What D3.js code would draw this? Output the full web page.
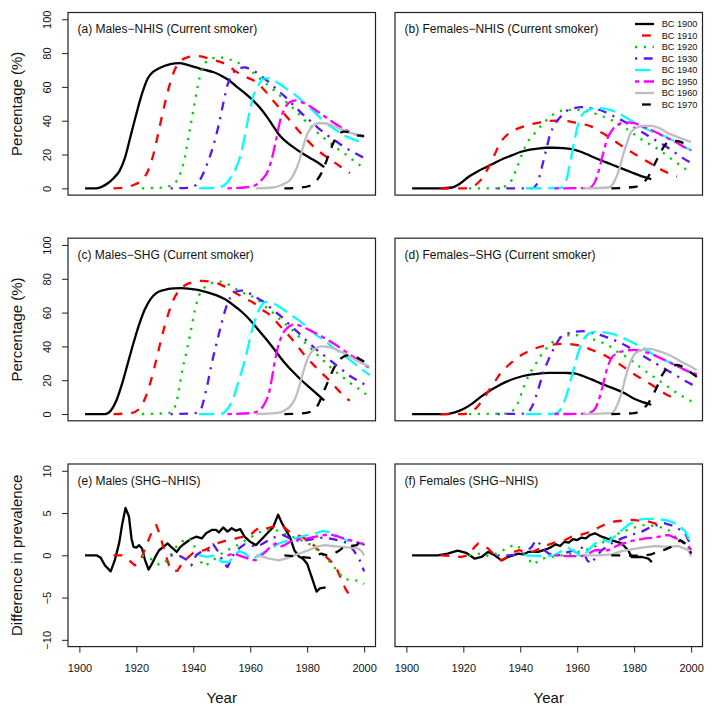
<!DOCTYPE html>
<html>
<head>
<meta charset="utf-8">
<script src="https://cdn.jsdelivr.net/npm/d3@7"></script>
<style>
  body { margin: 0; background: #fff; }
  text { font-family: "Liberation Sans", Arial, Helvetica, sans-serif; fill: #111; }
</style>
</head>
<body>
<svg id="chart" width="714" height="712"></svg>
<script>
// birth cohorts (legend)
const cohorts = ["BC 1900", "BC 1910", "BC 1920", "BC 1930", "BC 1940", "BC 1950", "BC 1960", "BC 1970"];

const yearTicks = [1900, 1920, 1940, 1960, 1980, 2000];
const pctTicks = [0, 20, 40, 60, 80, 100];
const diffTicks = [-10, -5, 0, 5, 10];

// (a) males, NHIS, current smoker prevalence (%) — [year, value]
const malesNHIS = [
  [[1902,0],[1906,0],[1908,1],[1910,3],[1912,6],[1914,10],[1916,18],[1918,31],[1920,44],[1922,56],[1924,65],[1926,69],[1928,71],[1930,72.5],[1932,73.5],[1935,74],[1938,73],[1941,71.5],[1944,70],[1947,68.8],[1950,66.5],[1952,64.5],[1955,60.5],[1958,56.5],[1961,52],[1964,46.5],[1966,42],[1968,37],[1970,32],[1972,28.5],[1975,24.5],[1978,21],[1981,18],[1984,15],[1986,12.5]],
  [[1912,0],[1916,0.5],[1919,2],[1922,5],[1924,10],[1926,20],[1928,35],[1930,50],[1932,63],[1934,72],[1936,76],[1938,77.5],[1941,78.3],[1944,77.5],[1947,76],[1950,74.5],[1953,71.5],[1956,68],[1959,65.5],[1962,63],[1965,58],[1968,52],[1971,46],[1974,40],[1977,34],[1980,28.5],[1983,23.5],[1986,19.5],[1989,16],[1992,12.5],[1995,9]],
  [[1922,0],[1928,0.3],[1932,1.5],[1934,4],[1935.5,9],[1937,18],[1938.5,32],[1940,46],[1941.5,60],[1943,70],[1945,75.5],[1947,77],[1949,77.5],[1952,76.5],[1955,75],[1958,72],[1961,68.5],[1964,64],[1967,60],[1970,55.5],[1973,50.5],[1976,46],[1979,40.5],[1982,35.5],[1985,31],[1988,27],[1991,23],[1994,19.5],[1997,15.5],[2000,12]],
  [[1932,0],[1938,0.3],[1941,2],[1943,7],[1945,15],[1947,25],[1949,38],[1950.5,50],[1952,61],[1953.5,67],[1955.5,70.5],[1958,71.5],[1960,70.5],[1963,67.5],[1966,63.5],[1969,59],[1972,54.5],[1975,49.5],[1978,44.5],[1981,40],[1984,35.5],[1987,31.5],[1990,28],[1993,24.5],[1996,21.5],[2000,18]],
  [[1942,0],[1948,0.3],[1951,2],[1953,6],[1955,12],[1956.5,19],[1958,30],[1959.5,43],[1961,54],[1963,61.5],[1965,65],[1967,65],[1970,62],[1973,58.5],[1976,55],[1979,50.5],[1982,46],[1985,41],[1988,37],[1991,33.5],[1994,30.5],[1997,28.5],[2000,26.5]],
  [[1952,0],[1958,0.5],[1962,2],[1964,5],[1966,9.5],[1967.5,17],[1969,28],[1970.5,40],[1972,47],[1974,51],[1976,52],[1978,51],[1981,48.5],[1984,45],[1987,41.5],[1990,38],[1993,35],[1996,32.5],[2000,30.5]],
  [[1962,0],[1968,0.5],[1971,2],[1974,5],[1975.5,9],[1977,15],[1978.5,24],[1980,32],[1982,37],[1984,38.5],[1986,38.5],[1989,37],[1992,35],[1995,33],[2000,30.5]],
  [[1972,0],[1978,0.5],[1981,1.5],[1983,4],[1985,9],[1986.5,15],[1988,22],[1989.5,28],[1991,32],[1993,33.5],[1995,33],[1997,31.5],[2000,31]]
];

// (b) females, NHIS
const femalesNHIS = [
  [[1902,0],[1912,0],[1916,0.5],[1919,3],[1922,7],[1925,10],[1928,12.5],[1931,15],[1934,17.5],[1937,19.5],[1940,21.5],[1943,22.8],[1946,23.5],[1949,24],[1952,24],[1955,23.8],[1958,23.2],[1961,21.8],[1964,19.7],[1967,17.5],[1970,15.5],[1973,13.5],[1976,11.5],[1979,9.5],[1982,7.5],[1986,5.5]],
  [[1912,0],[1920,0],[1923,0.8],[1925,3],[1927,7],[1929,13],[1931,20],[1933,27],[1935,31],[1938,34.5],[1941,36.5],[1944,38],[1947,39],[1950,39.8],[1953,40],[1956,39.8],[1959,39],[1962,38],[1965,36.5],[1968,33.5],[1971,30.5],[1974,27],[1977,23.5],[1980,20.5],[1983,17.5],[1986,14.5],[1989,11.5],[1992,9],[1995,7]],
  [[1922,0],[1932,0],[1935,1.5],[1937,5],[1939,13],[1941,22],[1943,28.5],[1945,32.5],[1947,36.5],[1949,40],[1951,43],[1953,45],[1956,46.3],[1959,46.5],[1962,46],[1965,45],[1968,43],[1971,41.3],[1974,38.5],[1977,35.5],[1980,32],[1983,28.5],[1986,25.5],[1989,22.5],[1992,18.7],[1995,15],[1998,11.5],[2000,10]],
  [[1932,0],[1944,0],[1946,3],[1947.5,12],[1949,22],[1950.5,32],[1952,37.5],[1954,42],[1956.5,46],[1959,47.5],[1961.5,48],[1964,47.5],[1967,46.8],[1970,45],[1973,42.5],[1976,40],[1979,37],[1982,34],[1985,31],[1988,28],[1991,25],[1994,21.5],[1997,18],[2000,15]],
  [[1942,0],[1954,0.2],[1956,4],[1957.5,15],[1959,28],[1960.5,39],[1962.5,45],[1965,47],[1967.5,47.5],[1970,47],[1973,45.5],[1976,43],[1979,40],[1982,37],[1985,34.5],[1988,32.5],[1991,30.5],[1994,28],[1997,25],[2000,22.5]],
  [[1952,0],[1964,0.2],[1966,3],[1967.5,10],[1969,20],[1970.5,29],[1972.5,35],[1975,38.3],[1977,39],[1980,38.5],[1983,36.5],[1986,34.5],[1989,32],[1992,29.5],[1995,27],[1998,24],[2000,22.5]],
  [[1962,0],[1971,0.5],[1973,4],[1974.5,10],[1976,19],[1977.5,27],[1979,33.5],[1981,36],[1983,37],[1986,37],[1989,35.5],[1992,32.5],[1995,30.5],[1998,28.5],[2000,27.5]],
  [[1972,0],[1980,0.8],[1983,3],[1985,7],[1986.5,12],[1988,17],[1989.5,22],[1991,26],[1993,27.8],[1995,28],[1997,27],[2000,24]]
];

// (c) males, SHG
const malesSHG = [
  [[1902,0],[1909,0],[1911,2],[1913,8],[1915,18],[1917,30],[1919,42],[1921,53],[1923,62],[1925,68],[1927,71.5],[1930,73.5],[1933,74.3],[1936,74.5],[1939,74],[1942,73.3],[1945,72],[1948,70.3],[1951,68],[1954,64.5],[1957,60.5],[1960,55.5],[1963,49.5],[1966,43.5],[1969,37],[1972,30.5],[1975,25],[1978,20],[1981,15.5],[1984,11],[1986,8]],
  [[1912,0],[1918,0.5],[1921,3],[1923,9],[1925,19],[1927,32],[1929,46],[1931,58],[1933,67.5],[1935,73],[1937,76],[1940,78],[1943,78.8],[1946,78.3],[1949,77],[1952,74.5],[1955,71.5],[1958,68.5],[1961,66],[1964,62],[1967,58.5],[1970,53],[1973,47.5],[1976,41.5],[1979,35],[1982,29.5],[1985,24.5],[1988,19.5],[1991,14],[1994,9],[1995,8]],
  [[1922,0],[1931,0.5],[1933,2.5],[1934.5,10],[1936,25],[1937.5,36],[1939,48],[1940.5,61],[1942,70],[1944,75],[1946.5,77.5],[1950,78.3],[1953,76],[1956,73],[1959,70.5],[1962,68.5],[1965,64],[1968,60],[1971,55],[1974,51],[1977,46],[1980,41],[1983,36],[1986,31],[1989,26.5],[1992,22.5],[1995,18.5],[1998,15],[2002,10]],
  [[1932,0],[1940,0.3],[1942.5,2.5],[1944.5,14],[1946.5,30],[1948.5,44],[1950,54],[1951.5,63],[1953,69],[1955,72.3],[1957,73],[1959,72],[1962,69],[1965,66],[1968,61.5],[1971,57.5],[1974,52.5],[1977,48],[1980,43],[1983,38.5],[1986,34.5],[1989,30.5],[1992,26.5],[1995,22.5],[1998,19.5],[2002,16]],
  [[1942,0],[1950,0.3],[1952,3],[1954,9],[1956,20],[1957.5,28],[1959,38],[1960.5,49],[1962,57],[1963.5,63],[1965.5,66.3],[1968,65.5],[1971,62.5],[1974,59],[1977,55.5],[1980,51.5],[1983,47],[1986,43.5],[1989,39.5],[1992,36],[1995,32],[1998,28],[2002,23]],
  [[1952,0],[1960,0.5],[1963,2],[1965,6],[1966.5,12],[1967.5,20],[1968.5,30],[1969.5,38],[1971,46],[1973,51],[1975.5,53],[1978,52],[1981,49.5],[1984,47],[1987,44],[1990,41],[1993,37.5],[1996,34],[1999,30.5],[2002,27]],
  [[1962,0],[1969,0.5],[1972,2],[1974.5,5.5],[1976,10],[1977.5,18],[1979,27],[1980.5,34],[1982.5,38.5],[1985,40],[1988,39.5],[1991,37.5],[1994,35],[1997,32],[2000,29.5],[2002,28]],
  [[1972,0],[1979,0.5],[1982,2],[1984,6],[1985.5,12],[1987,18],[1988.5,24],[1990,29],[1992,33],[1994,34.7],[1996,34.5],[1998,33],[2000,31],[2002,29]]
];

// (d) females, SHG
const femalesSHG = [
  [[1902,0],[1914,0],[1917,1],[1920,3],[1923,6],[1926,10],[1929,13.5],[1932,16.5],[1935,19],[1938,21],[1941,22.5],[1944,23.5],[1947,24],[1950,24.3],[1953,24.4],[1956,24.3],[1959,24],[1962,22.5],[1965,20.5],[1968,18.3],[1971,16.3],[1974,14.3],[1977,12],[1980,9],[1983,7],[1986,5.5]],
  [[1912,0],[1920,0],[1923,1.5],[1925,4.5],[1927,9],[1929,14],[1931,19],[1933,24],[1935,27.5],[1938,32],[1941,35.5],[1944,38],[1947,39.8],[1950,40.8],[1953,41.3],[1956,41.5],[1959,41],[1962,40],[1965,38],[1968,36],[1971,33.5],[1974,30.5],[1977,27],[1980,23.5],[1983,20.5],[1986,17.5],[1989,14],[1992,11],[1995,9]],
  [[1922,0],[1935,0.3],[1937,1.5],[1939,6],[1941,15],[1943,23],[1945,28.5],[1947,34],[1949,38.5],[1951,42],[1953,44.5],[1956,46.3],[1959,46.8],[1962,46],[1965,44.5],[1968,42.8],[1971,40.5],[1974,37],[1977,34],[1980,30.5],[1983,26.5],[1986,23],[1989,19.5],[1992,16],[1995,12.5],[1998,9.5],[2002,6]],
  [[1932,0],[1942,0.3],[1944,4],[1946,13],[1948,24],[1950,32.5],[1952,39.5],[1954,45],[1956.5,47.5],[1959,48.7],[1962,49],[1965,48],[1968,46.8],[1971,45],[1974,43],[1977,40.5],[1980,37.5],[1983,34.5],[1986,31.5],[1989,28.5],[1992,25.5],[1995,22.5],[1998,19.5],[2002,16]],
  [[1942,0],[1952,0.2],[1954.5,3.5],[1956,10],[1957.5,19],[1959,28],[1960.5,37],[1962,43.5],[1964,47.5],[1966.5,48.8],[1969,48.5],[1972,47.5],[1975,45.8],[1978,43.5],[1981,41],[1984,38.3],[1987,35],[1990,32.5],[1993,30],[1996,27.5],[1999,25],[2002,22.5]],
  [[1952,0],[1963,0.2],[1966,2.5],[1967.5,8],[1969,17],[1970.5,27],[1972,33],[1974,36],[1977,37.5],[1980,38],[1983,37],[1986,35.5],[1989,33.3],[1992,31],[1995,28.5],[1998,26],[2002,23.5]],
  [[1962,0],[1972,0.5],[1974,5],[1975.5,12],[1977,22],[1978.5,30],[1980.5,36],[1983,38],[1985.5,38.5],[1988,37.5],[1991,35.8],[1994,33.5],[1997,30.5],[2000,28],[2002,26]],
  [[1972,0],[1980,0.5],[1983,3],[1985,6.5],[1986.5,11],[1988,16],[1989.5,22],[1991,26],[1993,28.5],[1995,29],[1997.5,27.5],[2000,24.5],[2002,22]]
];

// (e) males, difference SHG - NHIS (percentage points)
const malesDiff = [
  [[1902,0],[1906,0],[1907.5,-0.3],[1909,-1.2],[1911,-1.9],[1912.5,-0.5],[1914,1.5],[1915,3.6],[1916.2,5.6],[1917.4,4.6],[1918.3,2],[1919,1],[1920,0.9],[1921,1.2],[1922,0.8],[1923,-0.5],[1924.3,-1.7],[1925.5,-1],[1926.8,-0.1],[1928,0.6],[1929.5,1],[1931,1.4],[1932.5,0.9],[1934.2,0.4],[1935.5,1],[1937,1.4],[1939,1.9],[1941,2.2],[1943,2],[1944.5,2.6],[1946.5,3],[1948,3],[1949,2.7],[1950.5,3.3],[1952,2.8],[1953.5,3.2],[1955,2.9],[1956.5,3.1],[1958,2.2],[1960,1.6],[1962,1.2],[1964,1.9],[1966,2.6],[1968,3.3],[1969.8,4.8],[1971,3.9],[1972.5,3],[1974,2.1],[1975.5,0.6],[1977,-0.1],[1978.5,-0.4],[1980,-1],[1981.5,-2.5],[1983.3,-4.3],[1984.5,-3.9],[1986.5,-3.8]],
  [[1912,0],[1915,0],[1917.5,-0.6],[1919.5,-1.2],[1921.5,-0.6],[1923.5,1.2],[1925.5,2.8],[1927,3.6],[1928.5,2.2],[1930,0.3],[1931.5,-1.2],[1933,-1.9],[1934.5,-1.8],[1936,-1],[1938,-0.3],[1940,0.3],[1942,0.5],[1944,0.6],[1946,1],[1948,1.4],[1950,1.6],[1952,1.8],[1954,1.9],[1956,2.1],[1958,2.2],[1960,2.4],[1962,3],[1964,3.4],[1966,3.2],[1968,3.4],[1970,3.6],[1972,3.3],[1974,2.7],[1976,2.4],[1978,2.2],[1980,1.8],[1982,1.3],[1984,0.6],[1986,0],[1988,-0.6],[1990,-1.3],[1991.8,-2.7],[1993.5,-4],[1994.5,-4.5]],
  [[1922,0],[1925,-0.4],[1928,-1.1],[1930,-0.9],[1932,0],[1934,1],[1936,1.6],[1938,2.1],[1940,1.5],[1942,-0.5],[1944,-1.3],[1946,-0.8],[1948.5,-0.2],[1951,0.5],[1954,0.9],[1957,1.5],[1960,2.1],[1963,2.7],[1966,3],[1969,3],[1971,2.7],[1974,2.3],[1977,1.9],[1980,1.5],[1983,0.8],[1986,-0.1],[1989,-1.2],[1991,-2],[1993,-2.8],[1995,-2.9],[1998,-3],[2000,-3.4]],
  [[1932,0],[1935.5,-0.1],[1937.5,-0.5],[1939.3,-1.2],[1941,0],[1943.5,0.6],[1945.5,0.6],[1947,1.3],[1948.8,0.4],[1950.5,-0.8],[1952,-1.4],[1954,0],[1956,0.8],[1958,1.3],[1960,1.2],[1962,1],[1964,1.3],[1966.5,1.8],[1969,2.2],[1971.5,2.4],[1974,2],[1977,1.7],[1980,1.8],[1983,2],[1986,2.1],[1989,1.9],[1992,1.7],[1994.5,1.4],[1996.5,0.5],[1998.5,-0.6],[2000,-1.9]],
  [[1942,0],[1945,-0.2],[1947.5,0],[1950,-0.8],[1952.5,-0.8],[1954.2,-0.2],[1956,0.5],[1958.3,0.2],[1960,-0.4],[1962,-0.2],[1964,0.2],[1966.5,0.6],[1970,1.4],[1973.5,1.8],[1977,2.1],[1980,2.4],[1983,2.6],[1985.5,2.9],[1988,2.7],[1990,2.4],[1993,1.9],[1996,1.5],[2000,1.4]],
  [[1952,0],[1954,0.2],[1956,0],[1959.5,-0.4],[1961.8,-0.6],[1964,0],[1966.5,0.8],[1968.8,1.4],[1970.5,1],[1972,1.2],[1974,1.6],[1977,1.9],[1980,2],[1983,2.2],[1986,2.4],[1988,2.5],[1990,2.3],[1993,2],[1997,1.6],[2000,1.3]],
  [[1962,0],[1964,-0.1],[1966.5,-0.4],[1970,-0.6],[1972.5,-0.4],[1975.5,0],[1978,0.3],[1980.5,0.6],[1983,1],[1986,1.2],[1989,1.1],[1992,1],[1995,0.9],[1998,0.8],[1999.3,0.4],[2000,0]],
  [[1972,0],[1975,-0.1],[1978,-0.2],[1981,-0.3],[1983,0],[1985,0.2],[1987,0],[1989,0.1],[1991,0.5],[1993,1],[1995.5,1.1],[1997.5,1.2],[1998.8,1.8],[2000,1.2]]
];

// (f) females, difference SHG - NHIS
const femalesDiff = [
  [[1902,0],[1911,0],[1914.5,0.2],[1918,0.55],[1921,0.3],[1924,-0.4],[1926.4,-0.2],[1928.7,0.4],[1931,0],[1933.4,-0.6],[1935.7,-0.2],[1937.5,0],[1939.3,0.2],[1941,0.1],[1942.8,0.4],[1946.3,0.4],[1949.8,0.8],[1951,1.0],[1952.5,1.3],[1954,1.1],[1955.5,1.6],[1957,1.5],[1958.5,1.9],[1960,1.8],[1961.5,2.1],[1963,2.0],[1964.5,2.4],[1966.2,2.6],[1968.6,2.2],[1972,1.8],[1975.6,1.4],[1977.9,0.6],[1979.1,-0.2],[1982.7,-0.2],[1985,-0.4],[1986.2,-0.8]],
  [[1912,0],[1916,-0.1],[1919.3,-0.2],[1921.7,0],[1924,1],[1925.2,1.4],[1927,1.2],[1928.7,0.8],[1931,0],[1933.4,-0.6],[1934.6,-0.4],[1937,0.3],[1939.5,0.6],[1942.8,0.3],[1945,0.5],[1948.6,1.1],[1952,1.5],[1955,1.7],[1958,2.2],[1961,2.4],[1964,2.7],[1967,3.2],[1970,3.7],[1973,4],[1976,4.1],[1979,4.2],[1982,4.1],[1985,4],[1988,3.7],[1990,3]],
  [[1922,0],[1926,0.2],[1929,-0.1],[1933,0.4],[1935,0.8],[1937,1.1],[1939,1.2],[1941.6,0],[1944.5,-1.1],[1947.5,-0.4],[1951,-0.2],[1954.5,0],[1958,0.2],[1962.7,0.6],[1966,1],[1970,1.7],[1974,2.5],[1979,3.2],[1983.8,3.6],[1988.5,3.4],[1992,3],[1994.4,2.2],[1997.9,1.4],[2000,0.5]],
  [[1932,0],[1936,0],[1940,0.1],[1942,0.4],[1944,1],[1945.5,1.8],[1947,1.3],[1948.5,0.6],[1950,0.2],[1953,0],[1956,0.3],[1959,0.6],[1961.6,0.9],[1963.5,-0.6],[1965,-1],[1966.5,-0.2],[1968.6,0.6],[1972,1.4],[1975.6,2],[1979,2.4],[1982.7,2.8],[1986.2,3.4],[1990.5,3.8],[1994.4,3.4],[1997.9,2.6],[2000,1.1]],
  [[1942,0],[1947.5,-0.1],[1952,0],[1954.5,0.5],[1956.8,0.9],[1959.2,0.4],[1961.6,-0.2],[1963.9,0.6],[1966.2,1.4],[1969.2,1.8],[1971,1.6],[1974.4,2.6],[1977.9,3.6],[1981,4.2],[1984,4.3],[1988,4.3],[1992,4.1],[1995,3.7],[1998,2.8],[2000,1.4]],
  [[1952,0],[1957,-0.1],[1961.6,-0.1],[1964,0.2],[1966.2,0.6],[1970.9,0.6],[1974.4,1.2],[1979.1,1.7],[1983.8,2],[1987.3,2.1],[1990,2.3],[1992,2.4],[1995.5,1.9],[1999,1.1],[2000,0.6]],
  [[1962,0],[1967.4,0],[1972.1,0.1],[1975.6,0.5],[1979.1,0.7],[1982.7,0.9],[1987.3,1.1],[1992,1.0],[1995.5,1.1],[1999,0.6],[2000,-0.1]],
  [[1972,0],[1976,0],[1980,-0.05],[1984,0],[1986,0.1],[1988,0.4],[1991,0.7],[1994.4,1.2],[1996.1,1.8],[1997.9,1.4],[1999.6,0.6],[2000,0.2]]
];

// ---- styling (kept apart from the data) ----
const colors = ["#000000", "#ff0000", "#00cd00", "#5a14f5", "#00ffff", "#ff00ff", "#bebebe", "#000000"];
const lw = 2.3, u = 2.2;
const dashes = [null, [4,4], [1,3], [1,3,4,3], [7,3], [2,2,6,2], null, [4,4]]
  .map(d => d ? d.map(v => v * u).join(",") : null);

const panels = [
  { title: "(a) Males\u2212NHIS (Current smoker)",   data: malesNHIS,   row: 0, col: 0, kind: "pct" },
  { title: "(b) Females\u2212NHIS (Current smoker)", data: femalesNHIS, row: 0, col: 1, kind: "pct", legend: true },
  { title: "(c) Males\u2212SHG (Current smoker)",    data: malesSHG,    row: 1, col: 0, kind: "pct" },
  { title: "(d) Females\u2212SHG (Current smoker)",  data: femalesSHG,  row: 1, col: 1, kind: "pct" },
  { title: "(e) Males (SHG\u2212NHIS)",              data: malesDiff,   row: 2, col: 0, kind: "diff" },
  { title: "(f) Females (SHG\u2212NHIS)",            data: femalesDiff, row: 2, col: 1, kind: "diff" }
];

const svg = d3.select("#chart");
const colX = [68, 395], rowY = [12.5, 238.2, 464];
const plotW = 307.5, plotH = 182.6;

panels.forEach(p => {
  const x0 = colX[p.col], y0 = rowY[p.row];
  const g = svg.append("g").attr("transform", `translate(${x0},${y0})`);

  const x = d3.scaleLinear().domain([1896, 2004]).range([0, plotW]);
  const y = p.kind === "pct"
    ? d3.scaleLinear().domain([-4, 104]).range([plotH, 0])
    : d3.scaleLinear().domain([-10.8, 10.8]).range([plotH, 0]);

  const line = d3.line()
    .x(d => x(d[0]))
    .y(d => y(d[1]))
    .curve(p.kind === "pct" ? d3.curveMonotoneX : d3.curveLinear);

  p.data.forEach((series, i) => {
    g.append("path")
      .attr("d", line(series))
      .attr("fill", "none")
      .attr("stroke", colors[i])
      .attr("stroke-width", lw)
      .attr("stroke-linejoin", "round")
      .attr("stroke-dasharray", dashes[i]);
  });

  // box
  g.append("rect")
    .attr("width", plotW).attr("height", plotH)
    .attr("fill", "none").attr("stroke", "#222").attr("stroke-width", 1.2);

  g.append("text")
    .attr("x", 9.5).attr("y", 20.5)
    .attr("font-size", 12)
    .text(p.title);

  // y axis only on the left column
  if (p.col === 0) {
    const ya = g.append("g")
      .call(d3.axisLeft(y).tickValues(p.kind === "pct" ? pctTicks : diffTicks).tickSize(6).tickFormat(d3.format("d")));
    ya.select(".domain").remove();
    ya.selectAll(".tick line").attr("stroke", "#222");
    ya.selectAll(".tick text")
      .attr("x", null).attr("dy", "0.35em")
      .attr("text-anchor", "middle")
      .attr("transform", "translate(-21.3,0) rotate(-90)")
      .attr("font-size", 11)
      .attr("font-family", "Liberation Sans, Arial, sans-serif")
      .style("fill", "#111");

    g.append("text")
      .attr("transform", `translate(-46,${plotH / 2}) rotate(-90)`)
      .attr("text-anchor", "middle")
      .attr("font-size", 15)
      .text(p.kind === "pct" ? "Percentage (%)" : "Difference in prevalence");
  }

  // x axis only on the bottom row
  if (p.row === 2) {
    const xa = g.append("g")
      .attr("transform", `translate(0,${plotH})`)
      .call(d3.axisBottom(x).tickValues(yearTicks).tickSize(6).tickFormat(d3.format("d")));
    xa.select(".domain").remove();
    xa.selectAll(".tick line").attr("stroke", "#222");
    xa.selectAll(".tick text")
      .attr("y", 18)
      .attr("font-size", 11)
      .attr("font-family", "Liberation Sans, Arial, sans-serif")
      .style("fill", "#111");

    g.append("text")
      .attr("x", plotW / 2).attr("y", plotH + 56)
      .attr("text-anchor", "middle")
      .attr("font-size", 15)
      .text("Year");
  }

  if (p.legend) {
    const lg = g.append("g").attr("transform", `translate(${635 - x0},${24 - y0})`);
    cohorts.forEach((c, i) => {
      const row = lg.append("g").attr("transform", `translate(0,${i * 11.5})`);
      row.append("line")
        .attr("x1", 0).attr("x2", 19).attr("y1", 0).attr("y2", 0)
        .attr("stroke", colors[i]).attr("stroke-width", lw)
        .attr("stroke-dasharray", dashes[i])
        .attr("stroke-dashoffset", (i === 1 || i === 7) ? 10.6 : 0);
      row.append("text")
        .attr("x", 26.7).attr("y", 0).attr("dy", "0.35em")
        .attr("font-size", 9.2)
        .text(c);
    });
  }
});
</script>
</body>
</html>
